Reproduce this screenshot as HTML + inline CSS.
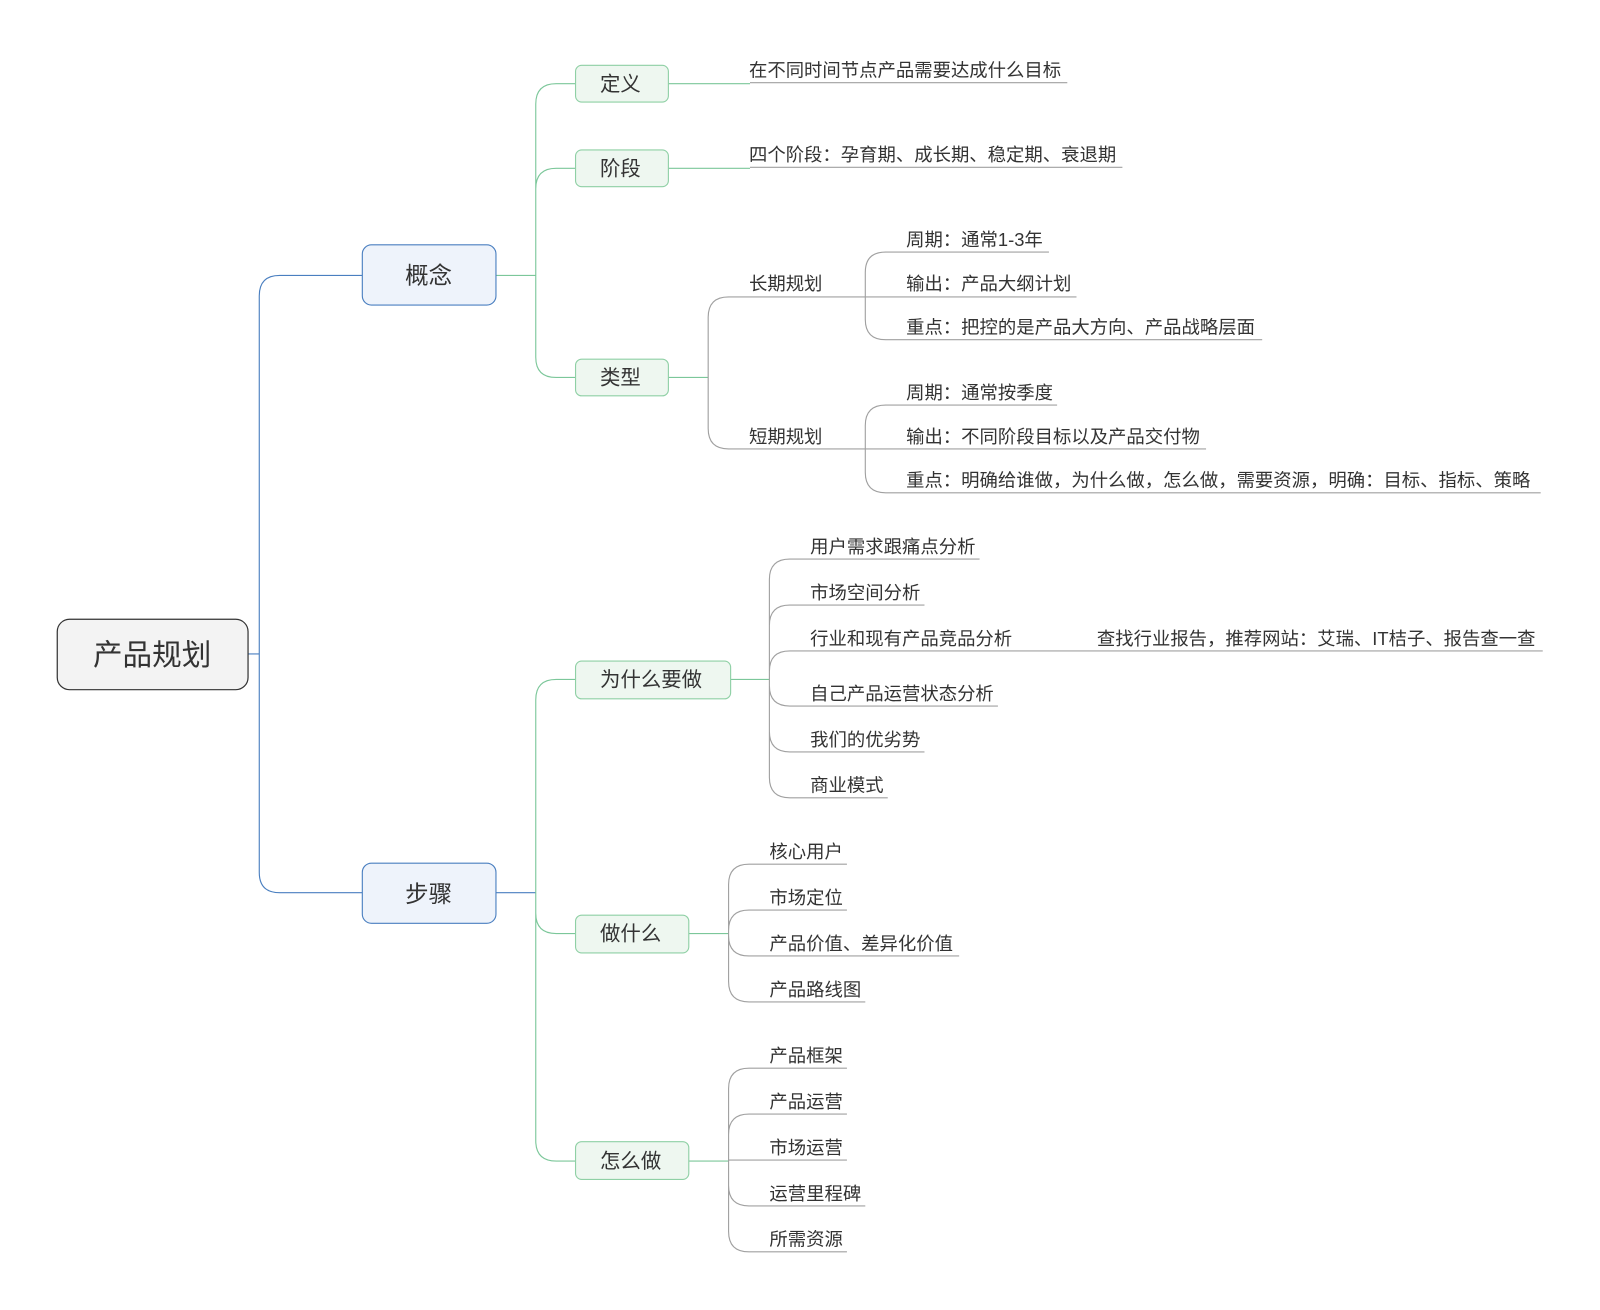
<!DOCTYPE html>
<html><head><meta charset="utf-8"><style>
html,body{margin:0;padding:0;background:#fff;width:1600px;height:1310px;overflow:hidden}
svg text{font-family:"Liberation Sans","Noto Sans CJK SC",sans-serif;fill:#333}
</style></head><body>
<svg width="1600" height="1310" viewBox="0 0 1568 1284" xmlns="http://www.w3.org/2000/svg">
<g fill="none" stroke-width="1.1">
<path stroke="#4a7fc0" d="M243,641 L254,641 M254,641 L254,290 Q254,270 274,270 L355,270 M254,641 L254,855 Q254,875 274,875 L355,875"/>
<path stroke="#7cc79a" d="M486,270 L525,270 M525,270 L525,102 Q525,82 545,82 L564,82 M525,270 L525,185 Q525,165 545,165 L564,165 M525,270 L525,350 Q525,370 545,370 L564,370 M655,82 L735,82 M655,165 L735,165 M655,370 L694,370"/>
<path stroke="#4a7fc0" d="M486,875 L525,875"/>
<path stroke="#7cc79a" d="M525,875 L525,686 Q525,666 545,666 L564,666 M525,875 L525,895 Q525,915 545,915 L564,915 M525,875 L525,1118 Q525,1138 545,1138 L564,1138 M716,666 L754,666 M675,915 L714,915 M675,1138 L714,1138"/>
<g stroke="#a0a0a0">
<path d="M735,81 L1046,81 M735,164 L1100,164"/>
<path d="M694,370 L694,311 Q694,291 714,291 L848,291 M694,370 L694,420 Q694,440 714,440 L848,440"/>
<path d="M848,291 L848,267 Q848,247 868,247 L1028,247 M848,291 L1055,291 M848,291 L848,313 Q848,333 868,333 L1237,333"/>
<path d="M848,440 L848,417 Q848,397 868,397 L1036,397 M848,440 L1182,440 M848,440 L848,463 Q848,483 868,483 L1510,483"/>
<path d="M754,666 L754,568 Q754,548 774,548 L960,548 M754,666 L754,613 Q754,593 774,593 L906,593 M754,666 L754,658 Q754,638 774,638 L1075,638 L1512,638 M754,666 L754,672 Q754,692 774,692 L978,692 M754,666 L754,717 Q754,737 774,737 L906,737 M754,666 L754,762 Q754,782 774,782 L870,782"/>
<path d="M714,915 L714,867 Q714,847 734,847 L830,847 M714,915 L714,912 Q714,892 734,892 L830,892 M714,915 L714,917 Q714,937 734,937 L940,937 M714,915 L714,962 Q714,982 734,982 L848,982"/>
<path d="M714,1138 L714,1067 Q714,1047 734,1047 L830,1047 M714,1138 L714,1112 Q714,1092 734,1092 L830,1092 M714,1138 L714,1137 Q714,1137 734,1137 L830,1137 M714,1138 L714,1162 Q714,1182 734,1182 L848,1182 M714,1138 L714,1207 Q714,1227 734,1227 L830,1227"/>
</g>
</g>
<rect x="56" y="607" width="187" height="69" rx="12" fill="#f3f3f3" stroke="#333" stroke-width="1.2"/>
<rect x="355" y="240" width="131" height="59" rx="9" fill="#eef3fb" stroke="#4a7fc0" stroke-width="1.1"/>
<rect x="355" y="846" width="131" height="59" rx="9" fill="#eef3fb" stroke="#4a7fc0" stroke-width="1.1"/>
<g fill="#eef7f0" stroke="#8fd0a5" stroke-width="1.1">
<rect x="564" y="64" width="91" height="36" rx="6"/>
<rect x="564" y="147" width="91" height="36" rx="6"/>
<rect x="564" y="352" width="91" height="36" rx="6"/>
<rect x="564" y="648" width="152" height="37" rx="6"/>
<rect x="564" y="897" width="111" height="37" rx="6"/>
<rect x="564" y="1119" width="111" height="37" rx="6"/>
</g>
<text x="149" y="652" font-size="29" text-anchor="middle">产品规划</text>
<text x="420" y="278" font-size="23" text-anchor="middle">概念</text>
<text x="420" y="884" font-size="23" text-anchor="middle">步骤</text>
<g font-size="20" text-anchor="middle">
<text x="608" y="89">定义</text>
<text x="608" y="172">阶段</text>
<text x="608" y="377">类型</text>
<text x="638" y="673">为什么要做</text>
<text x="618" y="922">做什么</text>
<text x="618" y="1145">怎么做</text>
</g>
<g font-size="18">
<text x="734" y="75">在不同时间节点产品需要达成什么目标</text>
<text x="734" y="158">四个阶段：孕育期、成长期、稳定期、衰退期</text>
<text x="734" y="284">长期规划</text>
<text x="734" y="434">短期规划</text>
<text x="888" y="241">周期：通常1-3年</text>
<text x="888" y="284">输出：产品大纲计划</text>
<text x="888" y="327">重点：把控的是产品大方向、产品战略层面</text>
<text x="888" y="391">周期：通常按季度</text>
<text x="888" y="434">输出：不同阶段目标以及产品交付物</text>
<text x="888" y="477">重点：明确给谁做，为什么做，怎么做，需要资源，明确：目标、指标、策略</text>
<text x="794" y="542">用户需求跟痛点分析</text>
<text x="794" y="587">市场空间分析</text>
<text x="794" y="632">行业和现有产品竞品分析</text>
<text x="1075" y="632">查找行业报告，推荐网站：艾瑞、IT桔子、报告查一查</text>
<text x="794" y="686">自己产品运营状态分析</text>
<text x="794" y="731">我们的优劣势</text>
<text x="794" y="776">商业模式</text>
<text x="754" y="841">核心用户</text>
<text x="754" y="886">市场定位</text>
<text x="754" y="931">产品价值、差异化价值</text>
<text x="754" y="976">产品路线图</text>
<text x="754" y="1041">产品框架</text>
<text x="754" y="1086">产品运营</text>
<text x="754" y="1131">市场运营</text>
<text x="754" y="1176">运营里程碑</text>
<text x="754" y="1221">所需资源</text>
</g>
</svg>
</body></html>
